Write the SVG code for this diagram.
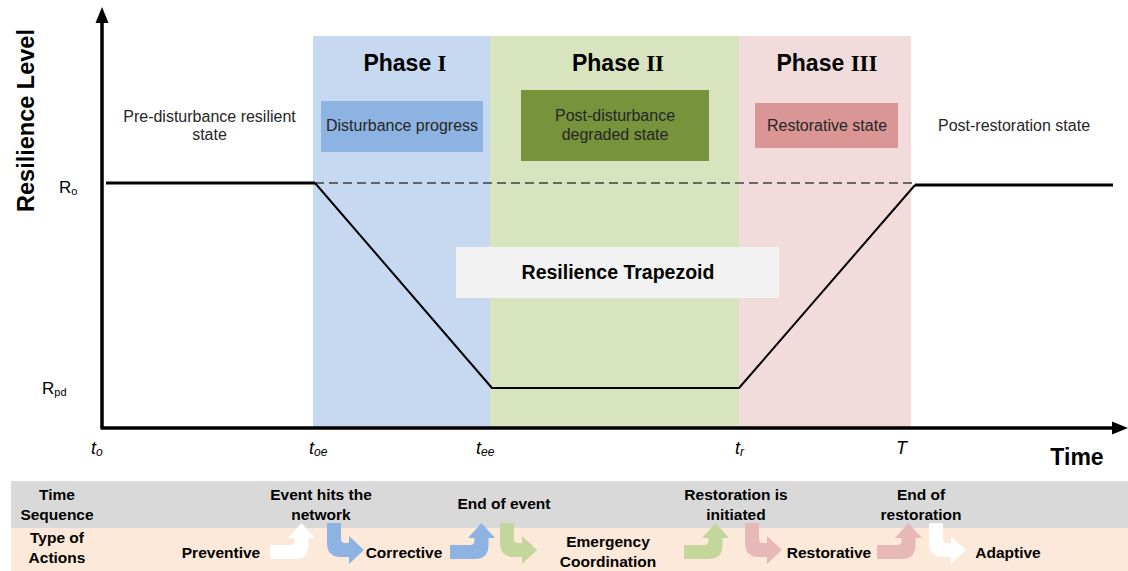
<svg xmlns="http://www.w3.org/2000/svg" xmlns:xlink="http://www.w3.org/1999/xlink" width="1128" height="571" viewBox="0 0 1128 571">
<style>
.sans{font-family:"Liberation Sans",Arial,sans-serif;}
.lbl{font-family:"Liberation Sans",Arial,sans-serif;font-size:16px;fill:#262626;text-anchor:middle;}
.ph{font-family:"Liberation Sans",Arial,sans-serif;font-size:23px;font-weight:bold;fill:#000;text-anchor:middle;}
.rn{font-family:"Liberation Serif","Times New Roman",serif;}
.tb{font-family:"Liberation Sans",Arial,sans-serif;font-size:15.5px;font-weight:bold;fill:#000;text-anchor:middle;}
.tk{font-family:"Liberation Sans",Arial,sans-serif;font-size:18px;font-style:italic;fill:#000;}
.ax{stroke:#000;stroke-width:3.5;fill:none;}
.crv{stroke:#000;fill:none;stroke-linejoin:round;}
</style>
<defs>
<path id="upArrow" d="M0,22 H20 Q24.5,22 24.5,17.5 V15 H18 L31.5,0 L45,15 H38.5 V22 Q38.5,36 24.5,36 H0 Z"/>
<path id="downArrow" d="M0,0 H14 V16 Q14,20 18,20 H22 V13 L37,27 L22,41 V34 H14 Q0,34 0,20 Z"/>
</defs>
<rect width="1128" height="571" fill="#fff"/>

<g id="phase1">
<rect x="313" y="36" width="177" height="392" fill="#c6d9f0"/>
<text class="ph" x="405" y="71">Phase <tspan class="rn">I</tspan></text>
</g>
<g id="phase2">
<rect x="490" y="36" width="249" height="392" fill="#d7e4bd"/>
<text class="ph" x="618" y="71">Phase <tspan class="rn">II</tspan></text>
</g>
<g id="phase3">
<rect x="739" y="36" width="172" height="392" fill="#f2dcdb"/>
<text class="ph" x="827" y="71">Phase <tspan class="rn">III</tspan></text>
</g>

<g id="pre-disturbance">
<text class="lbl" x="209.5" y="122">Pre-disturbance resilient</text>
<text class="lbl" x="209.5" y="140">state</text>
</g>
<g id="disturbance-progress">
<rect x="321" y="101" width="162" height="51" fill="#8db3e2"/>
<text class="lbl" x="402" y="131">Disturbance progress</text>
</g>
<g id="post-disturbance">
<rect x="521" y="90" width="188" height="71" fill="#77933c"/>
<text class="lbl" x="615" y="121">Post-disturbance</text>
<text class="lbl" x="615" y="140">degraded state</text>
</g>
<g id="restorative-state">
<rect x="755" y="103" width="143" height="45" fill="#d99694"/>
<text class="lbl" x="827" y="131">Restorative state</text>
</g>
<g id="post-restoration">
<text class="lbl" x="1014" y="131">Post-restoration state</text>
</g>
<g id="trapezoid-label">
<rect x="456" y="247" width="323" height="51" fill="#f2f2f2"/>
<text class="sans" x="618" y="279" font-size="19.5" font-weight="bold" text-anchor="middle" fill="#000">Resilience Trapezoid</text>
</g>

<g id="connectors">
<line x1="315" y1="183" x2="912" y2="183" stroke="#404040" stroke-width="1.5" stroke-dasharray="9 5"/>
<polyline class="crv" stroke-width="3" points="106,183 315,183"/>
<polyline class="crv" stroke-width="2" points="315,183 492,388 739,388 915,185"/>
<polyline class="crv" stroke-width="3" points="915,185 1113,185"/>
<line class="ax" x1="102" y1="20" x2="102" y2="428"/>
<polygon points="102,7 95.5,23 108.5,23" fill="#000"/>
<line class="ax" x1="100.5" y1="428" x2="1115" y2="428"/>
<polygon points="1128,428 1112,421.5 1112,434.5" fill="#000"/>
</g>

<g id="axis-labels">
<text class="sans" transform="translate(34,120.5) rotate(-90)" font-size="23.5" font-weight="bold" text-anchor="middle" fill="#000">Resilience Level</text>
<text class="sans" x="1077" y="465" font-size="23" font-weight="bold" text-anchor="middle" fill="#000">Time</text>
<text class="sans" x="59" y="193" font-size="17" fill="#000">R<tspan font-size="11" dy="2">o</tspan></text>
<text class="sans" x="42" y="394" font-size="17" fill="#000">R<tspan font-size="11" dy="2">pd</tspan></text>
<text class="tk" x="91" y="454">t<tspan font-size="12" dy="2">o</tspan></text>
<text class="tk" x="309" y="454">t<tspan font-size="12" dy="2">oe</tspan></text>
<text class="tk" x="476" y="454">t<tspan font-size="12" dy="2">ee</tspan></text>
<text class="tk" x="735" y="454">t<tspan font-size="12" dy="2">r</tspan></text>
<text class="tk" x="896" y="454">T</text>
</g>

<g id="timeline">
<rect x="11" y="481" width="1117" height="47" fill="#d9d9d9"/>
<rect x="11" y="528" width="1117" height="43" fill="#fde9d9"/>
<text class="tb" x="57" y="500">Time</text>
<text class="tb" x="57" y="520">Sequence</text>
<text class="tb" x="57" y="543">Type of</text>
<text class="tb" x="57" y="563">Actions</text>
<text class="tb" x="321" y="500">Event hits the</text>
<text class="tb" x="321" y="520">network</text>
<text class="tb" x="504" y="509">End of event</text>
<text class="tb" x="736" y="500">Restoration is</text>
<text class="tb" x="736" y="520">initiated</text>
<text class="tb" x="921" y="500">End of</text>
<text class="tb" x="921" y="520">restoration</text>
<text class="tb" x="221" y="558">Preventive</text>
<text class="tb" x="404" y="558">Corrective</text>
<text class="tb" x="608" y="547">Emergency</text>
<text class="tb" x="608" y="567">Coordination</text>
<text class="tb" x="829" y="558">Restorative</text>
<text class="tb" x="1008" y="558">Adaptive</text>
</g>

<g id="action-arrows">
<use xlink:href="#upArrow" href="#upArrow" transform="translate(270,523)" fill="#ffffff"/>
<use xlink:href="#downArrow" href="#downArrow" transform="translate(327,523)" fill="#8db3e2"/>
<use xlink:href="#upArrow" href="#upArrow" transform="translate(450,523)" fill="#8db3e2"/>
<use xlink:href="#downArrow" href="#downArrow" transform="translate(500,523)" fill="#c3d69b"/>
<use xlink:href="#upArrow" href="#upArrow" transform="translate(684,523)" fill="#c3d69b"/>
<use xlink:href="#downArrow" href="#downArrow" transform="translate(745,523)" fill="#e6b9b8"/>
<use xlink:href="#upArrow" href="#upArrow" transform="translate(877,523)" fill="#e6b9b8"/>
<use xlink:href="#downArrow" href="#downArrow" transform="translate(929,523)" fill="#ffffff"/>
</g>
</svg>
